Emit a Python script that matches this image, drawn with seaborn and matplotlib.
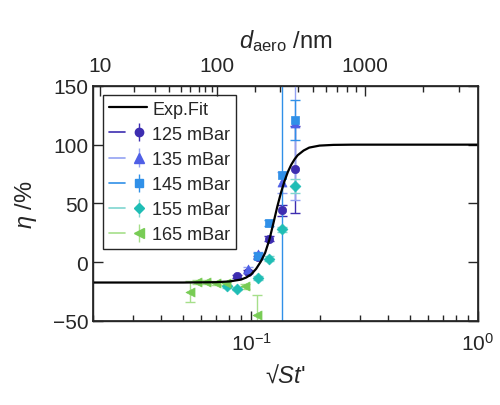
import numpy as np
import pandas as pd
import matplotlib
matplotlib.use("Agg")
import matplotlib.pyplot as plt
import seaborn as sns
from matplotlib.lines import Line2D
from matplotlib.ticker import FixedLocator, NullFormatter, LogLocator
from matplotlib.legend_handler import HandlerTuple

# ---------------- data ----------------
fit_x = [0.02, 0.05, 0.07, 0.08, 0.09, 0.095, 0.10, 0.105, 0.11, 0.115, 0.12, 0.125,
         0.13, 0.135, 0.14, 0.145, 0.15, 0.155, 0.16, 0.17, 0.18, 0.20, 0.23, 0.28, 1.0]
fit_y = [-17.3, -17.3, -17.0, -16.4, -14.8, -13.0, -10.2, -5.6, 0.5, 8.0, 19.0, 33.0,
         47.0, 59.0, 69.0, 77.0, 83.0, 87.5, 91.0, 95.0, 97.5, 99.2, 99.8, 100.0, 100.0]

labels = ["125 mBar", "135 mBar", "145 mBar", "155 mBar", "165 mBar"]
x125 = [0.0864, 0.0963, 0.1070, 0.1201, 0.1362, 0.1555]
y125 = [-12.0, -8.0, 4.0, 20.0, 44.0, 79.0]
e125 = [1.5, 1.5, 1.5, 2.0, 5.0, 37.0]
x135 = [0.0963, 0.1070, 0.1362, 0.1555]
y135 = [-6.0, 7.0, 68.0, 118.0]
e135 = [2.0, 2.0, 9.0, 65.0]
x145 = [0.1070, 0.1201, 0.1362, 0.1555]
y145 = [5.5, 33.0, 74.0, 121.0]
e145 = [2.0, 2.5, 250.0, 17.0]
x155 = [0.0780, 0.0864, 0.1070, 0.1201, 0.1362, 0.1555]
y155 = [-20.5, -22.5, -13.5, 3.0, 28.0, 65.0]
e155 = [1.5, 1.5, 1.5, 2.0, 2.0, 6.0]
x165 = [0.0537, 0.0575, 0.0630, 0.0695, 0.0770, 0.0940, 0.1055]
y165 = [-25.0, -17.0, -17.0, -17.5, -18.0, -20.5, -45.0]
e165 = [9.0, 1.5, 1.5, 1.5, 1.5, 2.0, 17.0]

# top axis (d_aero / nm): label values and their sqrt(St') positions
top_major_labels = ["10", "100", "1000"]
top_major_pos = [0.02148, 0.07044, 0.3172]
top_minor_pos = [0.03036, 0.03759, 0.04337, 0.04882, 0.05372, 0.05844, 0.06258, 0.06693,
                 0.1041, 0.1344, 0.1608, 0.1873, 0.2126, 0.2392, 0.2649, 0.2903,
                 0.5728, 0.8267]

yticks = [-50, 0, 50, 100, 150]

# ---------------- style ----------------
sns.set_theme(style="white")
plt.rcParams["font.family"] = ["Liberation Sans", "DejaVu Sans"]
plt.rcParams["mathtext.fontset"] = "custom"
plt.rcParams["mathtext.rm"] = "Liberation Sans"
plt.rcParams["mathtext.it"] = "Liberation Sans:italic"
plt.rcParams["mathtext.bf"] = "Liberation Sans:bold"

marker_cols = ["#3d2db0", "#4f5fe6", "#3090e8", "#1fbdb5", "#78cc55"]
line_cols = ["#3d2db0", "#93a2f2", "#3090e8", "#7fd6cf", "#a6df8a"]
markers = ["o", "^", "s", "D", "<"]
msizes = [6, 6.5, 6, 5.5, 6.5]

fig = plt.figure(figsize=(5.0, 4.06), dpi=100)
ax = fig.add_axes([0.186, 0.207, 0.77, 0.579])

fit_df = pd.DataFrame({"x": fit_x, "y": fit_y})
sns.lineplot(data=fit_df, x="x", y="y", ax=ax, color="black", lw=1.6, zorder=5,
             estimator=None, sort=False)

series = [(x125, y125, e125), (x135, y135, e135), (x145, y145, e145),
          (x155, y155, e155), (x165, y165, e165)]
handles = [Line2D([], [], color="black", lw=1.6)]
for i, (xs, ys, es) in enumerate(series):
    eb = ax.errorbar(xs, ys, yerr=es, fmt="none", ecolor=line_cols[i], elinewidth=1.0,
                     capsize=3.5, capthick=1.0, zorder=3)
    df = pd.DataFrame({"x": xs, "y": ys})
    sns.scatterplot(data=df, x="x", y="y", ax=ax, marker=markers[i], color=marker_cols[i],
                    s=msizes[i] ** 2, edgecolor=marker_cols[i], linewidth=0.5, zorder=4,
                    legend=False)
    hl = Line2D([], [], color=line_cols[i], lw=1.2)
    ebh = ax.errorbar([], [], yerr=[], fmt=markers[i], color=marker_cols[i],
                      ecolor=line_cols[i], ms=msizes[i], capsize=3.5, elinewidth=1.0)
    handles.append((hl, ebh))

ax.set_xscale("log")
ax.set_xlim(0.02, 1.0)
ax.set_ylim(-50, 150)
ax.set_yticks(yticks)
ax.xaxis.set_major_locator(LogLocator(base=10, numticks=10))
ax.xaxis.set_minor_locator(LogLocator(base=10, subs=np.arange(2, 10), numticks=10))
ax.xaxis.set_minor_formatter(NullFormatter())
ax.tick_params(axis="both", which="major", direction="in", length=7, width=1.0,
               labelsize=15, colors="#262626", top=False, right=True, bottom=True, left=True)
ax.tick_params(axis="both", which="minor", direction="in", length=4, width=1.0,
               top=False, right=False, bottom=True)
ax.tick_params(axis="x", which="major", pad=8)
for s in ax.spines.values():
    s.set_color("#262626")
    s.set_linewidth(1.0)

ax.set_xlabel("\u221a" + r"$St$" + "'", fontsize=17, labelpad=7, color="#262626")
ax.set_ylabel(r"$\eta$ /%", fontsize=17, labelpad=10, color="#262626")

ax2 = ax.twiny()
ax2.set_xscale("log")
ax2.set_xlim(ax.get_xlim())
ax2.xaxis.set_major_locator(FixedLocator(top_major_pos))
ax2.set_xticklabels(top_major_labels)
ax2.xaxis.set_minor_locator(FixedLocator(top_minor_pos))
ax2.xaxis.set_minor_formatter(NullFormatter())
ax2.tick_params(axis="x", which="major", direction="in", length=7, width=1.0,
                labelsize=15, colors="#262626", pad=8)
ax2.tick_params(axis="x", which="minor", direction="in", length=4, width=1.0)
ax2.set_xlabel(r"$d_{\mathrm{aero}}$ /nm", fontsize=17, labelpad=6, color="#262626")

leg = ax.legend(handles, ["Exp.Fit"] + labels, loc="upper left",
                bbox_to_anchor=(0.026, 0.962), borderaxespad=0, fontsize=13,
                handler_map={tuple: HandlerTuple(ndivide=None)},
                handlelength=2.1, handletextpad=0.3, labelspacing=0.45,
                frameon=True, fancybox=False, framealpha=1, edgecolor="#262626",
                borderpad=0.32)
leg.get_frame().set_linewidth(1.0)
leg.set_zorder(10)

fig.savefig("out.png", dpi=100)
